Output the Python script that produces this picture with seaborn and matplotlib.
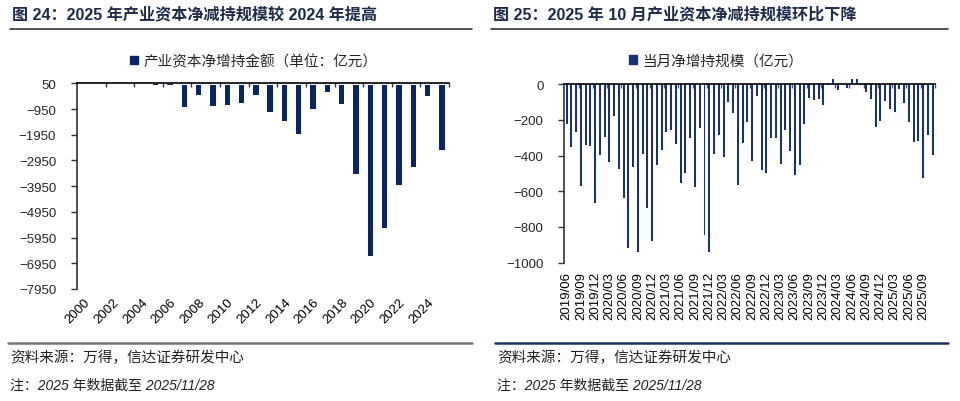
import matplotlib
matplotlib.use('Agg')
import matplotlib.pyplot as plt
from matplotlib.lines import Line2D
from matplotlib.patches import Patch
import numpy as np
import pandas as pd
import seaborn as sns

# ---------------- data ----------------
years = [str(y) for y in range(2000, 2026)]
annual_net = [0, 0, 0, 0, 0, 20, 15, -860, -405, -845, -780, -730, -405,
              -1080, -1430, -1935, -940, -300, -755, -3470, -6660, -5590,
              -3895, -3205, -430, -2545]
annual_yticks = list(range(-7950, 51, 1000))

months = [p.strftime('%Y/%m') for p in pd.period_range('2019-06', '2025-11', freq='M')]
monthly_net = [-223, -353, -267, -569, -342, -347, -667, -394, -297, -438,
               -177, -473, -640, -918, -462, -939, -389, -693, -877, -453,
               -366, -265, -259, -334, -552, -500, -304, -575, -248, -845,
               -941, -392, -287, -406, -100, -162, -567, -329, -210, -428,
               -66, -481, -500, -304, -299, -449, -257, -377, -509, -451,
               -222, -75, -86, -81, -115, 5, 28, -30, 4, -20,
               30, 30, -3, -42, -85, -240, -208, -96, -141, -158,
               -24, -103, -214, -321, -317, -528, -285, -394]
monthly_yticks = list(range(-1000, 1, 200))

title_left = '图 24：2025 年产业资本净减持规模较 2024 年提高'
title_right = '图 25：2025 年 10 月产业资本净减持规模环比下降'
legend_left = '产业资本净增持金额（单位：亿元）'
legend_right = '当月净增持规模（亿元）'
source_text = '资料来源：万得，信达证券研发中心'
note_text = '注：2025 年数据截至 2025/11/28'

# ---------------- style ----------------
sns.set_theme(style='white')
plt.rcParams['font.family'] = ['Liberation Sans', 'Noto Sans CJK SC', 'DejaVu Sans']
plt.rcParams['axes.unicode_minus'] = True

W, H = 960, 402
fig = plt.figure(figsize=(9.6, 4.02), dpi=100)

def fx(px):
    return px / W

def fy(py):
    return 1 - py / H

bar_left = '#0b2463'
bar_right = '#16317a'
title_col = '#1d2c4a'

ax1 = fig.add_axes([fx(77), fy(290), fx(449) - fx(77), fy(84.3) - fy(290)])
ax2 = fig.add_axes([fx(564.3), fy(263.5), fx(935) - fx(564.3), fy(85.3) - fy(263.5)])

df1 = pd.DataFrame({'year': years, 'value': annual_net})
sns.barplot(data=df1, x='year', y='value', color=bar_left, saturation=1,
            width=0.38, linewidth=0, ax=ax1)
df2 = pd.DataFrame({'month': months, 'value': monthly_net})
sns.barplot(data=df2, x='month', y='value', color=bar_right, saturation=1,
            width=0.42, linewidth=0, ax=ax2)
for p in ax2.patches:
    p.set_clip_on(False)
for p in ax1.patches:
    p.set_clip_on(False)

# left axes
ax1.set_xlim(-0.5, len(years) - 0.5)
ax1.set_ylim(-7950, 50)
ax1.set_yticks(annual_yticks)
ax1.set_yticklabels([f'{v}'.replace('-', '\u2212') for v in annual_yticks])
ax1.set_xticks(range(0, len(years), 2))
ax1.set_xticklabels(years[::2], rotation=45, ha='right', va='top',
                    rotation_mode='anchor')
ax1.set_xticks(np.arange(1.5, len(years), 2), minor=True)
ax1.tick_params(axis='x', which='major', length=0, pad=5, labelsize=9.5,
                colors='#000000')
ax1.tick_params(axis='x', which='minor', top=True, bottom=False,
                direction='in', length=3, width=1, color='#333333')
ax1.tick_params(axis='y', which='major', left=True, direction='out',
                length=4, width=1, pad=11, labelsize=9.5, color='#333333')

# right axes
ax2.set_xlim(-0.5, len(months) - 0.5)
ax2.set_ylim(-1000, 0)
ax2.set_yticks(monthly_yticks)
ax2.set_yticklabels([f'{v}'.replace('-', '\u2212') for v in monthly_yticks])
ax2.set_xticks(range(0, len(months), 3))
ax2.set_xticklabels(months[::3], rotation=90, ha='center', va='top')
ax2.set_xticks(np.arange(2.5, len(months), 3), minor=True)
ax2.tick_params(axis='x', which='major', length=0, pad=6, labelsize=9.5,
                colors='#000000')
ax2.tick_params(axis='x', which='minor', top=True, bottom=False,
                direction='in', length=3, width=1, color='#555555')
ax2.tick_params(axis='y', which='major', left=True, direction='out',
                length=4, width=1, pad=11, labelsize=9.5, color='#333333')

for ax in (ax1, ax2):
    ax.set_xlabel('')
    ax.set_ylabel('')
    ax.grid(False)
    ax.spines['bottom'].set_visible(False)
    ax.spines['right'].set_visible(False)
    ax.spines['left'].set_color('#333333')
    ax.spines['left'].set_linewidth(1.2)
    ax.spines['top'].set_color('#000000')
    ax.spines['top'].set_linewidth(1.2)
    ax.patch.set_alpha(0)

# legends
fig.legend(handles=[Patch(color=bar_left)], labels=[legend_left],
           loc='center', bbox_to_anchor=(fx(254), fy(62)), frameon=False,
           handlelength=0.55, handleheight=0.55, handletextpad=0.4,
           fontsize=10.5)
fig.legend(handles=[Patch(color=bar_right)], labels=[legend_right],
           loc='center', bbox_to_anchor=(fx(716), fy(62)), frameon=False,
           handlelength=0.55, handleheight=0.55, handletextpad=0.4,
           fontsize=10.5)

# titles and rules
fig.text(fx(12), fy(15), title_left, fontsize=11.6, fontweight='bold',
         color=title_col, ha='left', va='center')
fig.text(fx(493), fy(15), title_right, fontsize=11.6, fontweight='bold',
         color=title_col, ha='left', va='center')
fig.add_artist(Line2D([fx(10), fx(472)], [fy(30), fy(30)], color='#222222', lw=1.1))
fig.add_artist(Line2D([fx(491), fx(948)], [fy(30), fy(30)], color='#222222', lw=1.1))

fig.add_artist(Line2D([fx(8), fx(472)], [fy(343.5), fy(343.5)], color='#777777', lw=1.8))
fig.add_artist(Line2D([fx(495), fx(948)], [fy(343.5), fy(343.5)], color='#1f3564', lw=1.8))

for x0 in (10, 497):
    fig.text(fx(x0), fy(358), source_text, fontsize=10.5, color='#222222',
             ha='left', va='center', style='italic')
    fig.text(fx(x0), fy(386), note_text, fontsize=10, color='#222222',
             ha='left', va='center', style='italic')

fig.savefig('out.png', dpi=100)
